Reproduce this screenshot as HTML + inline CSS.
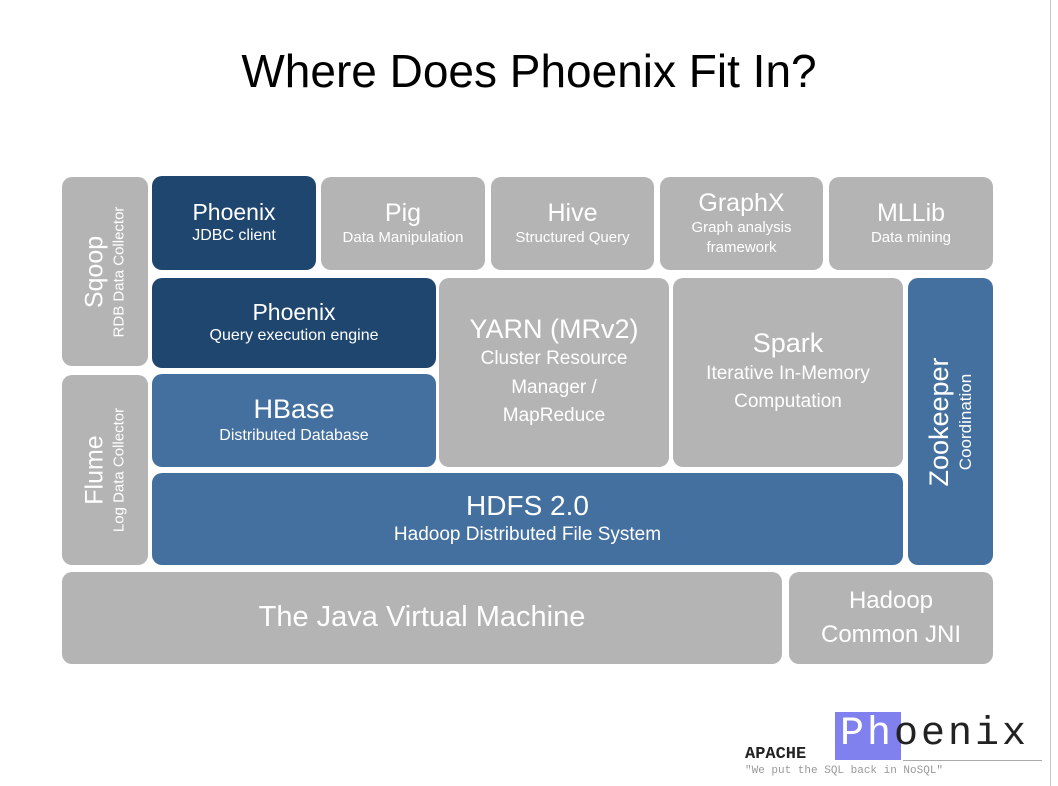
<!DOCTYPE html>
<html><head><meta charset="utf-8"><style>
body{margin:0;width:1058px;height:786px;background:#fff;position:relative;overflow:hidden;font-family:"Liberation Sans",sans-serif}
.b{position:absolute;border-radius:10px;color:#fff;display:flex;flex-direction:column;align-items:center;justify-content:center;text-align:center;box-sizing:border-box}
.g{background:#b4b4b4}.d{background:#1f466f}.m{background:#4470a0}
.t{font-size:25px;line-height:1.15}.s{font-size:15px;line-height:1.35}
.r{position:absolute;left:50%;top:50%;transform:translate(-50%,-50%) rotate(-90deg);white-space:nowrap;text-align:center}
</style></head><body>
<div style="position:absolute;left:1050px;top:0;width:1px;height:786px;background:#c8c8c8"></div>
<div style="position:absolute;left:0;width:1058px;top:44px;text-align:center;font-size:46px;color:#000">Where Does Phoenix Fit In?</div>

<div class="b g" style="left:62px;top:177px;width:86px;height:189px"><div class="r"><div class="t" style="font-size:25px">Sqoop</div><div class="s">RDB Data Collector</div></div></div>
<div class="b g" style="left:62px;top:375px;width:86px;height:190px"><div class="r"><div class="t">Flume</div><div class="s">Log Data Collector</div></div></div>

<div class="b d" style="left:152px;top:176px;width:164px;height:94px"><div class="t" style="font-size:23px">Phoenix</div><div class="s" style="font-size:16px">JDBC client</div></div>
<div class="b g" style="left:321px;top:177px;width:164px;height:93px"><div class="t">Pig</div><div class="s">Data Manipulation</div></div>
<div class="b g" style="left:491px;top:177px;width:163px;height:93px"><div class="t">Hive</div><div class="s">Structured Query</div></div>
<div class="b g" style="left:660px;top:177px;width:163px;height:93px"><div class="t">GraphX</div><div class="s">Graph analysis<br>framework</div></div>
<div class="b g" style="left:829px;top:177px;width:164px;height:93px"><div class="t">MLLib</div><div class="s">Data mining</div></div>

<div class="b d" style="left:152px;top:278px;width:284px;height:90px"><div class="t" style="font-size:23px">Phoenix</div><div class="s" style="font-size:16px">Query execution engine</div></div>
<div class="b m" style="left:152px;top:374px;width:284px;height:93px"><div class="t" style="font-size:27px">HBase</div><div class="s" style="font-size:16px">Distributed Database</div></div>
<div class="b g" style="left:439px;top:278px;width:230px;height:189px"><div class="t" style="font-size:27px">YARN (MRv2)</div><div class="s" style="font-size:19px;line-height:1.5">Cluster Resource<br>Manager /<br>MapReduce</div></div>
<div class="b g" style="left:673px;top:278px;width:230px;height:189px"><div class="t" style="font-size:27px">Spark</div><div class="s" style="font-size:19px;line-height:1.5">Iterative In-Memory<br>Computation</div></div>
<div class="b m" style="left:908px;top:278px;width:85px;height:287px"><div class="r"><div class="t" style="font-size:27px">Zookeeper</div><div class="s" style="font-size:17px">Coordination</div></div></div>
<div class="b m" style="left:152px;top:473px;width:751px;height:92px"><div class="t" style="font-size:28px">HDFS 2.0</div><div class="s" style="font-size:19px">Hadoop Distributed File System</div></div>
<div class="b g" style="left:62px;top:572px;width:720px;height:92px"><div class="t" style="font-size:29px">The Java Virtual Machine</div></div>
<div class="b g" style="left:789px;top:572px;width:204px;height:92px"><div class="t" style="font-size:24px;line-height:1.4">Hadoop<br>Common JNI</div></div>

<div style="position:absolute;left:835px;top:712px;width:66px;height:48px;background:#8080ee"></div>
<div style="position:absolute;left:745px;top:745px;font-family:'Liberation Mono',monospace;font-weight:bold;font-size:17px;color:#222">APACHE</div>
<div style="position:absolute;left:840px;top:715px;font-family:'Liberation Mono',monospace;font-size:40px;line-height:40px;letter-spacing:3px;color:#222"><span style="color:#fff">Ph</span>oenix</div>
<div style="position:absolute;left:903px;top:760px;width:139px;height:1px;background:#aaa"></div>
<div style="position:absolute;left:745px;top:765px;font-family:'Liberation Mono',monospace;font-size:11px;color:#999">"We put the SQL back in NoSQL"</div>
</body></html>
